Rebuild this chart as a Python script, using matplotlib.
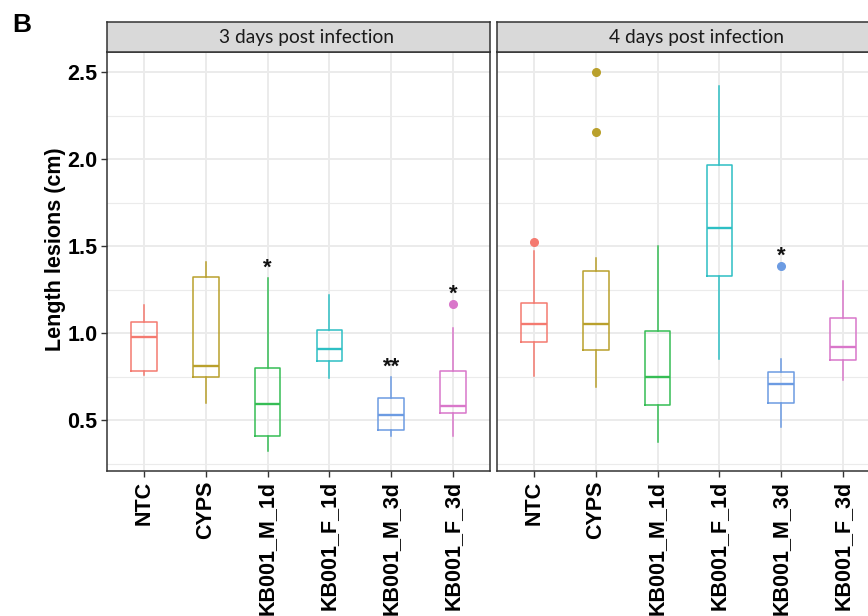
import matplotlib
matplotlib.use("Agg")
import matplotlib.pyplot as plt
from matplotlib.ticker import MultipleLocator

groups = ["NTC", "CYPS", "KB001_M_1d", "KB001_F_1d", "KB001_M_3d", "KB001_F_3d"]
colors = ["#F47A70", "#B9A02C", "#36BD55", "#2EBFC4", "#6C9BE2", "#D977CA"]

# 3 days post infection (box stats)
d3_whislo = [0.76, 0.60, 0.32, 0.74, 0.41, 0.41]
d3_q1 = [0.78, 0.75, 0.41, 0.84, 0.44, 0.54]
d3_med = [0.98, 0.81, 0.59, 0.91, 0.53, 0.58]
d3_q3 = [1.065, 1.325, 0.80, 1.02, 0.625, 0.78]
d3_whishi = [1.16, 1.41, 1.315, 1.22, 0.75, 1.03]
d3_fliers = [[], [], [], [], [], [1.17]]
d3_stars = ["", "", "*", "", "**", "*"]

# 4 days post infection
d4_whislo = [0.755, 0.69, 0.375, 0.85, 0.46, 0.73]
d4_q1 = [0.95, 0.905, 0.585, 1.33, 0.60, 0.845]
d4_med = [1.05, 1.05, 0.745, 1.605, 0.705, 0.918]
d4_q3 = [1.175, 1.357, 1.01, 1.965, 0.778, 1.085]
d4_whishi = [1.474, 1.434, 1.50, 2.42, 0.851, 1.30]
d4_fliers = [[1.524], [2.50, 2.159], [], [], [1.388], []]
d4_stars = ["", "", "", "", "*", ""]

titles = ["3 days post infection", "4 days post infection"]

W, H = 868, 616
fig = plt.figure(figsize=(8.68, 6.16), dpi=100)

grid_col = "#EBEBEB"
edge_col = "#333333"


def draw_panel(ax, whislo, q1, med, q3, whishi, fliers, stars):
    stats = []
    for i, g in enumerate(groups):
        stats.append(dict(label=g, whislo=whislo[i], q1=q1[i], med=med[i],
                          q3=q3[i], whishi=whishi[i], fliers=fliers[i]))
    pos = list(range(1, len(groups) + 1))
    for i in range(len(groups)):
        c = colors[i]
        ax.bxp([stats[i]], positions=[pos[i]], widths=0.41, showcaps=False,
               boxprops=dict(color=c, lw=1.1),
               whiskerprops=dict(color=c, lw=1.1),
               medianprops=dict(color=c, lw=1.7),
               flierprops=dict(marker="o", markerfacecolor=c, markeredgecolor=c,
                               markersize=5.5, linestyle="none"),
               zorder=3)
        if stars[i]:
            top = max([whishi[i]] + fliers[i])
            ax.annotate(stars[i], (pos[i], top), xytext=(0, 3), textcoords="offset points",
                        ha="center", va="baseline", fontsize=16, fontweight="bold",
                        family="Liberation Sans", color="#111111")
    ax.set_xlim(0.4, 6.6)
    ax.set_ylim(0.207, 2.615)
    ax.set_xticks(pos)
    ax.set_xticklabels(groups, rotation=90, fontsize=15.5, fontweight="bold",
                       family="Liberation Sans")
    ax.yaxis.set_major_locator(MultipleLocator(0.5))
    ax.yaxis.set_minor_locator(MultipleLocator(0.25))
    ax.grid(True, which="major", color=grid_col, lw=1.4, zorder=0)
    ax.grid(True, which="minor", axis="y", color=grid_col, lw=0.8, zorder=0)
    ax.set_axisbelow(True)
    for s in ax.spines.values():
        s.set_color(edge_col)
        s.set_linewidth(1.1)
    ax.tick_params(axis="both", which="major", length=4, width=1, color=edge_col, pad=3)
    ax.tick_params(axis="y", which="minor", length=0)


panel_left = [107, 497]
panel_w = 383
panel_bottom = 471
panel_top = 52.3
strip_top = 21.5
data = [
    (d3_whislo, d3_q1, d3_med, d3_q3, d3_whishi, d3_fliers, d3_stars),
    (d4_whislo, d4_q1, d4_med, d4_q3, d4_whishi, d4_fliers, d4_stars),
]

for k in range(2):
    ax = fig.add_axes([panel_left[k] / W, 1 - panel_bottom / H,
                       panel_w / W, (panel_bottom - panel_top) / H])
    draw_panel(ax, *data[k])
    if k == 0:
        for t in ax.get_yticklabels():
            t.set_fontsize(15.5)
            t.set_fontweight("bold")
            t.set_family("Liberation Sans")
    else:
        ax.tick_params(axis="y", which="both", left=False, labelleft=False)

    sax = fig.add_axes([panel_left[k] / W, 1 - panel_top / H,
                        panel_w / W, (panel_top - strip_top) / H])
    sax.set_facecolor("#D9D9D9")
    sax.set_xticks([])
    sax.set_yticks([])
    for s in sax.spines.values():
        s.set_color(edge_col)
        s.set_linewidth(1.1)
    sax.text(0.52, 0.47, titles[k], ha="center", va="center", fontsize=13.8,
             family="Lato", color="#1A1A1A", transform=sax.transAxes)

fig.text(55 / W, 1 - 249 / H, "Length lesions (cm)", rotation=90, ha="center", va="center",
         fontsize=15.5, fontweight="bold", family="Liberation Sans")
fig.text(12 / W, 1 - 32 / H, "B", ha="left", va="baseline", fontsize=19,
         fontweight="bold", family="Liberation Sans")

fig.savefig("out.png", dpi=100)
